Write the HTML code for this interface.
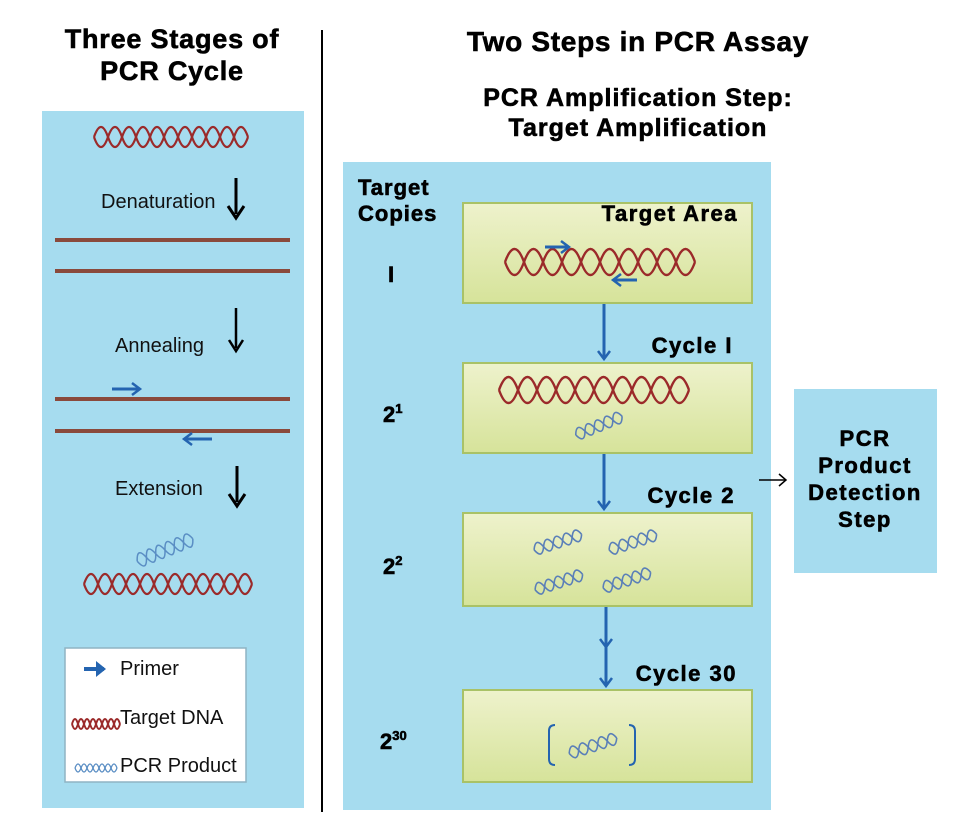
<!DOCTYPE html>
<html><head><meta charset="utf-8"><style>
html,body{margin:0;padding:0;background:#fff;}
svg{display:block;}
.t{font-family:"Liberation Sans",sans-serif;font-weight:bold;fill:#000;stroke:#000;stroke-width:0.6;}
.n{font-family:"Liberation Sans",sans-serif;fill:#111;}
</style></head><body>
<svg width="960" height="837" viewBox="0 0 960 837" xmlns="http://www.w3.org/2000/svg">
<defs>
<linearGradient id="g" x1="0" y1="0" x2="0" y2="1"><stop offset="0" stop-color="#eef2cc"/><stop offset="1" stop-color="#d6e39a"/></linearGradient>
<marker id="ab" markerWidth="14" markerHeight="14" refX="10" refY="7" orient="auto" markerUnits="userSpaceOnUse"><path d="M2,1 L10,7 L2,13" fill="none" stroke="#2464b0" stroke-width="2.5"/></marker>
</defs>
<!-- titles -->
<text class="t" x="172" y="48" font-size="27" letter-spacing="0.8" text-anchor="middle">Three Stages of</text>
<text class="t" x="172" y="80" font-size="27" letter-spacing="0.8" text-anchor="middle">PCR Cycle</text>
<text class="t" x="638" y="51" font-size="28" letter-spacing="0.7" text-anchor="middle">Two Steps in PCR Assay</text>
<text class="t" x="638" y="106" font-size="25" letter-spacing="1" text-anchor="middle">PCR Amplification Step:</text>
<text class="t" x="638" y="136" font-size="25" letter-spacing="1" text-anchor="middle">Target Amplification</text>
<line x1="322" y1="30" x2="322" y2="812" stroke="#000" stroke-width="2"/>

<!-- left panel -->
<rect x="42" y="111" width="262" height="697" fill="#a6dcef"/>
<g fill="none" stroke="#9b2a2a" stroke-width="2.2">
<path d="M94,137 q7,-20 14,0 t14,0 t14,0 t14,0 t14,0 t14,0 t14,0 t14,0 t14,0 t14,0 t14,0"/>
<path d="M94,137 q7,20 14,0 t14,0 t14,0 t14,0 t14,0 t14,0 t14,0 t14,0 t14,0 t14,0 t14,0"/>
</g>
<text class="n" x="101" y="208" font-size="20">Denaturation</text>
<path d="M236,178 v36" stroke="#000" stroke-width="3"/><path d="M228,206 l8,12 l8,-12" fill="none" stroke="#000" stroke-width="3"/>
<rect x="55" y="238" width="235" height="4" fill="#8a4a3c"/>
<rect x="55" y="269" width="235" height="4" fill="#8a4a3c"/>
<text class="n" x="115" y="352" font-size="20">Annealing</text>
<path d="M236,308 v40" stroke="#000" stroke-width="2.5"/><path d="M229,340 l7,11 l7,-11" fill="none" stroke="#000" stroke-width="2.5"/>
<rect x="55" y="397" width="235" height="4" fill="#8a4a3c"/>
<rect x="55" y="429" width="235" height="4" fill="#8a4a3c"/>
<path d="M112,389 h28" stroke="#2464b0" stroke-width="3" marker-end="url(#ab)"/>
<path d="M212,439 h-28" stroke="#2464b0" stroke-width="3" marker-end="url(#ab)"/>
<text class="n" x="115" y="495" font-size="20">Extension</text>
<path d="M237,466 v36" stroke="#000" stroke-width="3"/><path d="M229,494 l8,12 l8,-12" fill="none" stroke="#000" stroke-width="3"/>
<g fill="none" stroke="#5a8ec4" stroke-width="1.5" transform="rotate(-22 165 550)">
<path d="M135,550 q5,-14 10,0 t10,0 t10,0 t10,0 t10,0 t10,0"/>
<path d="M135,550 q5,14 10,0 t10,0 t10,0 t10,0 t10,0 t10,0"/>
</g>
<g fill="none" stroke="#9b2a2a" stroke-width="2.2">
<path d="M84,584 q7,-20 14,0 t14,0 t14,0 t14,0 t14,0 t14,0 t14,0 t14,0 t14,0 t14,0 t14,0 t14,0"/>
<path d="M84,584 q7,20 14,0 t14,0 t14,0 t14,0 t14,0 t14,0 t14,0 t14,0 t14,0 t14,0 t14,0 t14,0"/>
</g>
<rect x="65" y="648" width="181" height="134" fill="#fff" stroke="#8fb3c4" stroke-width="1.5"/>
<path d="M84,669 h20" stroke="#2464b0" stroke-width="4"/><path d="M96,661 l10,8 l-10,8" fill="#2464b0"/>
<text class="n" x="120" y="675" font-size="20">Primer</text>
<g fill="none" stroke="#9b2a2a" stroke-width="2"><path d="M72,724 q3,-10 6,0 t6,0 t6,0 t6,0 t6,0 t6,0 t6,0 t6,0"/><path d="M72,724 q3,10 6,0 t6,0 t6,0 t6,0 t6,0 t6,0 t6,0 t6,0"/></g>
<text class="n" x="120" y="724" font-size="20">Target DNA</text>
<g fill="none" stroke="#5a8ec4" stroke-width="1.3"><path d="M75,768 q3,-8 6,0 t6,0 t6,0 t6,0 t6,0 t6,0 t6,0"/><path d="M75,768 q3,8 6,0 t6,0 t6,0 t6,0 t6,0 t6,0 t6,0"/></g>
<text class="n" x="120" y="772" font-size="20">PCR Product</text>

<!-- right panel -->
<rect x="343" y="162" width="428" height="648" fill="#a6dcef"/>
<text class="t" x="358" y="195" font-size="22" letter-spacing="1">Target</text>
<text class="t" x="358" y="221" font-size="22" letter-spacing="1">Copies</text>
<text class="t" x="388" y="282" font-size="22">I</text>
<text class="t" x="383" y="422" font-size="22">2<tspan font-size="13" dy="-9">1</tspan></text>
<text class="t" x="383" y="574" font-size="22">2<tspan font-size="13" dy="-9">2</tspan></text>
<text class="t" x="380" y="749" font-size="22">2<tspan font-size="13" dy="-9">30</tspan></text>

<g stroke="#a9c267" stroke-width="2" fill="url(#g)">
<rect x="463" y="203" width="289" height="100"/>
<rect x="463" y="363" width="289" height="90"/>
<rect x="463" y="513" width="289" height="93"/>
<rect x="463" y="690" width="289" height="92"/>
</g>
<text class="t" x="738" y="221" font-size="22" letter-spacing="1.5" text-anchor="end">Target Area</text>
<text class="t" x="733" y="353" font-size="22" letter-spacing="1.5" text-anchor="end">Cycle I</text>
<text class="t" x="735" y="503" font-size="22" letter-spacing="1.5" text-anchor="end">Cycle 2</text>
<text class="t" x="737" y="681" font-size="22" letter-spacing="1.5" text-anchor="end">Cycle 30</text>

<g fill="none" stroke="#9b2a2a" stroke-width="2.4">
<path d="M505,262 q9.5,-26 19,0 t19,0 t19,0 t19,0 t19,0 t19,0 t19,0 t19,0 t19,0 t19,0"/>
<path d="M505,262 q9.5,26 19,0 t19,0 t19,0 t19,0 t19,0 t19,0 t19,0 t19,0 t19,0 t19,0"/>
<path d="M499,390 q9.5,-26 19,0 t19,0 t19,0 t19,0 t19,0 t19,0 t19,0 t19,0 t19,0 t19,0"/>
<path d="M499,390 q9.5,26 19,0 t19,0 t19,0 t19,0 t19,0 t19,0 t19,0 t19,0 t19,0 t19,0"/>
</g>
<path d="M545,247 h24" stroke="#2464b0" stroke-width="3" marker-end="url(#ab)"/>
<path d="M637,280 h-24" stroke="#2464b0" stroke-width="3" marker-end="url(#ab)"/>
<g fill="none" stroke="#5a7fb8" stroke-width="1.6">
<g transform="rotate(-22 598 426)"><path d="M574,426 q5,-12 10,0 t10,0 t10,0 t10,0 t10,0"/><path d="M574,426 q5,12 10,0 t10,0 t10,0 t10,0 t10,0"/></g>
<g transform="rotate(-18 555 543)"><path d="M533,543 q5,-12 10,0 t10,0 t10,0 t10,0 t10,0"/><path d="M533,543 q5,12 10,0 t10,0 t10,0 t10,0 t10,0"/></g>
<g transform="rotate(-18 630 543)"><path d="M608,543 q5,-12 10,0 t10,0 t10,0 t10,0 t10,0"/><path d="M608,543 q5,12 10,0 t10,0 t10,0 t10,0 t10,0"/></g>
<g transform="rotate(-18 556 583)"><path d="M534,583 q5,-12 10,0 t10,0 t10,0 t10,0 t10,0"/><path d="M534,583 q5,12 10,0 t10,0 t10,0 t10,0 t10,0"/></g>
<g transform="rotate(-18 624 581)"><path d="M602,581 q5,-12 10,0 t10,0 t10,0 t10,0 t10,0"/><path d="M602,581 q5,12 10,0 t10,0 t10,0 t10,0 t10,0"/></g>
<g transform="rotate(-18 592 746)"><path d="M568,746 q5,-12 10,0 t10,0 t10,0 t10,0 t10,0"/><path d="M568,746 q5,12 10,0 t10,0 t10,0 t10,0 t10,0"/></g>
</g>
<path d="M555,725 q-6,0 -6,6 v28 q0,6 6,6" fill="none" stroke="#2464b0" stroke-width="2"/>
<path d="M629,725 q6,0 6,6 v28 q0,6 -6,6" fill="none" stroke="#2464b0" stroke-width="2"/>

<g stroke="#2464b0" stroke-width="3" fill="none">
<path d="M604,304 v55" marker-end="url(#ab)"/>
<path d="M604,454 v55" marker-end="url(#ab)"/>
<path d="M606,607 v40" marker-end="url(#ab)"/>
<path d="M606,640 v46" marker-end="url(#ab)"/>
</g>

<path d="M759,480 h26" stroke="#000" stroke-width="1.5"/><path d="M779,474 l7,6 l-7,6" fill="none" stroke="#000" stroke-width="1.5"/>
<rect x="794" y="389" width="143" height="184" fill="#a6dcef"/>
<text class="t" x="865" y="446" font-size="22" letter-spacing="1.5" text-anchor="middle">PCR</text>
<text class="t" x="865" y="473" font-size="22" letter-spacing="1.5" text-anchor="middle">Product</text>
<text class="t" x="865" y="500" font-size="22" letter-spacing="1.5" text-anchor="middle">Detection</text>
<text class="t" x="865" y="527" font-size="22" letter-spacing="1.5" text-anchor="middle">Step</text>
</svg>
</body></html>
